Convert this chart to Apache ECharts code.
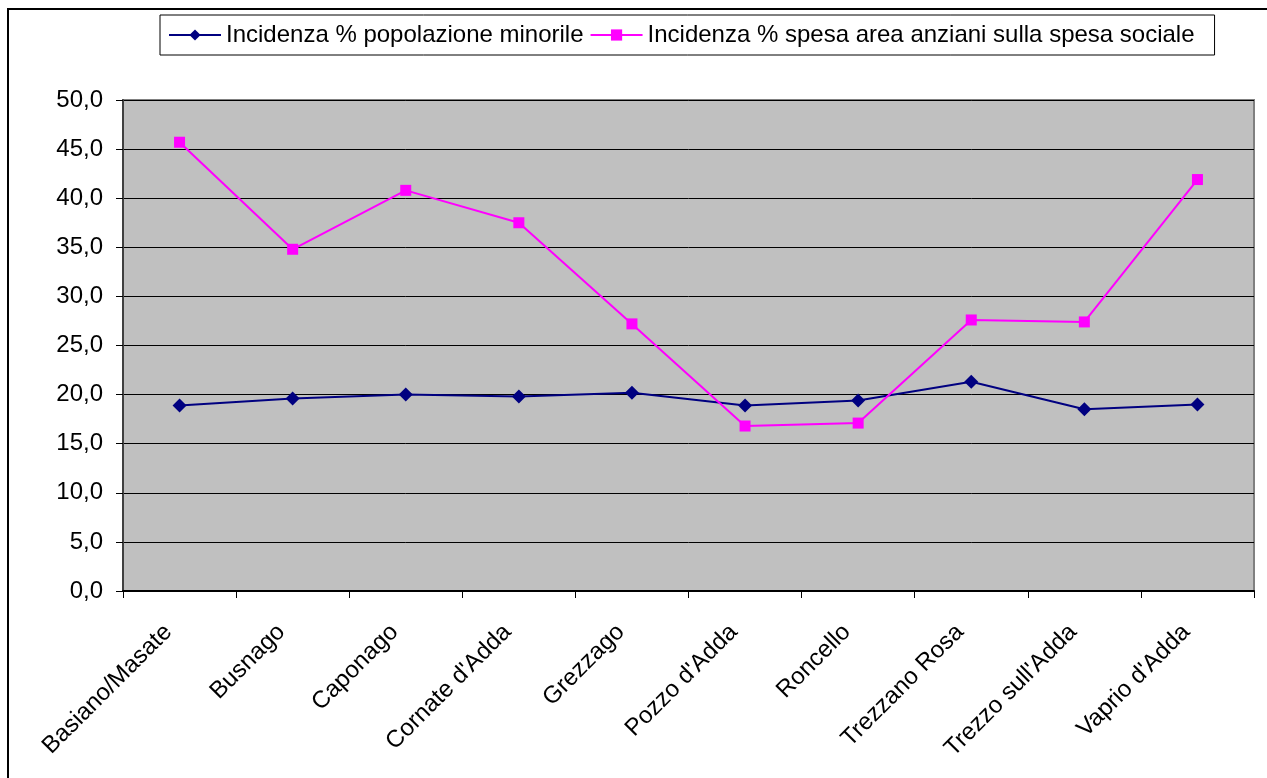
<!DOCTYPE html>
<html>
<head>
<meta charset="utf-8">
<script src="https://cdn.jsdelivr.net/npm/echarts@6/dist/echarts.min.js"></script>
<style>
  html, body { margin: 0; padding: 0; background: #fff; }
  #chart { width: 1267px; height: 778px; }
</style>
</head>
<body>
<div id="chart"></div>
<script>
const comuni = ['Basiano/Masate', 'Busnago', 'Caponago', "Cornate d'Adda", 'Grezzago', "Pozzo d'Adda", 'Roncello', 'Trezzano Rosa', "Trezzo sull'Adda", "Vaprio d'Adda"]
const popMinorile = [18.9, 19.6, 20.0, 19.8, 20.2, 18.9, 19.4, 21.3, 18.5, 19.0]
const spesaAnziani = [45.7, 34.8, 40.8, 37.5, 27.2, 16.8, 17.1, 27.6, 27.4, 41.9]
const yTicks = { min: 0, max: 50, step: 5 }

const chart = echarts.init(document.getElementById('chart'))
const font = 'Liberation Sans, Arial, sans-serif'

const option = {
  animation: false,
  textStyle: { fontFamily: font },
  graphic: [
    {
      type: 'rect',
      shape: { x: 8, y: 9, width: 1300, height: 800 },
      style: { fill: 'none', stroke: '#000', lineWidth: 2 },
      silent: true
    }
  ],
  legend: {
    left: 160,
    top: 15,
    padding: [8, 20, 8, 8],
    itemGap: 6,
    itemWidth: 52,
    itemHeight: 14,
    borderColor: '#000',
    borderWidth: 1,
    backgroundColor: '#fff',
    textStyle: { fontSize: 24, color: '#000', fontFamily: font },
    data: ['Incidenza % popolazione minorile', 'Incidenza % spesa area anziani sulla spesa sociale']
  },
  grid: {
    left: 123,
    top: 100,
    width: 1131,
    height: 491,
    show: true,
    backgroundColor: '#C0C0C0',
    borderColor: '#808080',
    borderWidth: 2
  },
  xAxis: {
    type: 'category',
    data: comuni,
    boundaryGap: true,
    axisLine: { lineStyle: { color: '#000', width: 2 } },
    axisTick: { show: true, length: 7, lineStyle: { color: '#000' } },
    axisLabel: { rotate: 45, fontSize: 24, color: '#000', margin: 26, padding: [0, 16, 0, 0], fontFamily: font },
    splitLine: { show: false }
  },
  yAxis: {
    type: 'value',
    min: yTicks.min,
    max: yTicks.max,
    interval: yTicks.step,
    axisLine: { show: true, lineStyle: { color: '#404040', width: 2 } },
    axisTick: { show: true, length: 7, lineStyle: { color: '#000' } },
    axisLabel: {
      fontSize: 24,
      color: '#000',
      margin: 20,
      fontFamily: font,
      formatter: v => v.toFixed(1).replace('.', ',')
    },
    splitLine: { lineStyle: { color: '#000', width: 1 } }
  },
  series: [
    {
      name: 'Incidenza % popolazione minorile',
      type: 'line',
      data: popMinorile,
      symbol: 'diamond',
      symbolSize: 14,
      color: '#000080',
      lineStyle: { color: '#000080', width: 2 },
      itemStyle: { color: '#000080' }
    },
    {
      name: 'Incidenza % spesa area anziani sulla spesa sociale',
      type: 'line',
      data: spesaAnziani,
      symbol: 'rect',
      symbolSize: 11,
      color: '#FF00FF',
      lineStyle: { color: '#FF00FF', width: 2 },
      itemStyle: { color: '#FF00FF' }
    }
  ]
}

chart.setOption(option)
</script>
</body>
</html>
